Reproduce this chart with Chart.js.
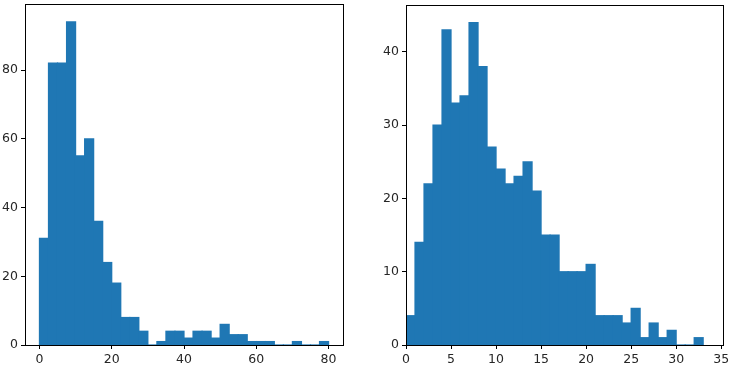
<!DOCTYPE html>
<html lang="en">
<head>
  <meta charset="UTF-8" />
  <title>Two histograms</title>
  <script src="https://cdn.jsdelivr.net/npm/chart.js"></script>
  <style>
    body { margin: 0; background: #fff; width: 749px; height: 371px; position: relative; overflow: hidden; }
    .box { position: absolute; top: 0; height: 371px; }
    #leftBox { left: 0; width: 365px; }
    #rightBox { left: 370px; width: 379px; }
  </style>
</head>
<body>
  <div class="box" id="leftBox"><canvas id="leftChart"></canvas></div>
  <div class="box" id="rightBox"><canvas id="rightChart"></canvas></div>

  <script>
    // Left histogram: bin centres (width 2.5) and counts
    const leftBins = [1.25, 3.75, 6.25, 8.75, 11.25, 13.75, 16.25, 18.75, 21.25, 23.75, 26.25, 28.75,
                      31.25, 33.75, 36.25, 38.75, 41.25, 43.75, 46.25, 48.75, 51.25, 53.75, 56.25, 58.75,
                      61.25, 63.75, 66.25, 68.75, 71.25, 73.75, 76.25, 78.75];
    const leftCounts = [31, 82, 82, 94, 55, 60, 36, 24, 18, 8, 8, 4,
                        0, 1, 4, 4, 2, 4, 4, 2, 6, 3, 3, 1,
                        1, 1, 0, 0, 1, 0, 0, 1];
    const leftXTicks = [0, 20, 40, 60, 80];
    const leftYTicks = [0, 20, 40, 60, 80];

    // Right histogram: bin centres (width 1) and counts
    const rightBins = [0.5, 1.5, 2.5, 3.5, 4.5, 5.5, 6.5, 7.5, 8.5, 9.5, 10.5, 11.5, 12.5, 13.5, 14.5, 15.5,
                       16.5, 17.5, 18.5, 19.5, 20.5, 21.5, 22.5, 23.5, 24.5, 25.5, 26.5, 27.5, 28.5, 29.5,
                       30.5, 31.5, 32.5];
    const rightCounts = [4, 14, 22, 30, 43, 33, 34, 44, 38, 27, 24, 22, 23, 25, 21, 15,
                         15, 10, 10, 10, 11, 4, 4, 4, 3, 5, 1, 3, 1, 2,
                         0, 0, 1];
    const rightXTicks = [0, 5, 10, 15, 20, 25, 30, 35];
    const rightYTicks = [0, 10, 20, 30, 40];

    const barColor = "#1f77b4";
    const textColor = "#262626";

    // draws the full black frame round the plot area (matplotlib spines)
    const framePlugin = {
      id: "frame",
      afterDraw(chart) {
        const a = chart.chartArea;
        const ctx = chart.ctx;
        ctx.save();
        ctx.strokeStyle = "#000";
        ctx.lineWidth = 1;
        ctx.strokeRect(Math.round(a.left) + 0.5, Math.round(a.top) + 0.5,
                       Math.round(a.right - a.left), Math.round(a.bottom - a.top));
        ctx.restore();
      }
    };

    function axisOpts(min, max, ticks, fitSize, isX) {
      return {
        type: "linear",
        min: min,
        max: max,
        offset: false,
        afterBuildTicks: function(scale) {
          scale.ticks = ticks.map(v => ({ value: v }));
        },
        afterFit: function(scale) {
          if (isX) scale.height = fitSize; else scale.width = fitSize;
          // no extra room for half labels, the padding below sets the frame
          scale.paddingTop = 0; scale.paddingBottom = 0;
          scale.paddingLeft = 0; scale.paddingRight = 0;
        },
        grid: { display: true, offset: false, drawOnChartArea: false, drawTicks: true, tickLength: 4, color: "#000" },
        border: { display: true, color: "#000" },
        ticks: {
          color: textColor,
          font: { family: "DejaVu Sans", size: 12.5 },
          padding: 3,
          maxRotation: 0,
          autoSkip: false
        }
      };
    }

    function makeHist(id, bins, counts, opts) {
      const points = bins.map((b, i) => ({ x: b, y: counts[i] }));
      new Chart(document.getElementById(id), {
        type: "bar",
        data: {
          datasets: [{
            data: points,
            backgroundColor: barColor,
            borderWidth: 0,
            inflateAmount: 0.6,
            barPercentage: 1.0,
            categoryPercentage: 1.0
          }]
        },
        options: {
          responsive: true,
          maintainAspectRatio: false,
          animation: false,
          layout: { padding: opts.padding },
          plugins: { legend: { display: false }, tooltip: { enabled: false } },
          scales: {
            x: axisOpts(opts.xMin, opts.xMax, opts.xTicks, opts.xFit, true),
            y: axisOpts(0, opts.yMax, opts.yTicks, opts.yFit, false)
          }
        },
        plugins: [framePlugin]
      });
    }

    makeHist("leftChart", leftBins, leftCounts, {
      xMin: -4, xMax: 84, xTicks: leftXTicks,
      yMax: 99.2, yTicks: leftYTicks,
      xFit: 26, yFit: 25,
      padding: { top: 4, right: 22, bottom: 0, left: 0 }
    });

    makeHist("rightChart", rightBins, rightCounts, {
      xMin: 0, xMax: 35.2, xTicks: rightXTicks,
      yMax: 46.4, yTicks: rightYTicks,
      xFit: 26, yFit: 36,
      padding: { top: 5, right: 26, bottom: 0, left: 0 }
    });
  </script>
</body>
</html>
